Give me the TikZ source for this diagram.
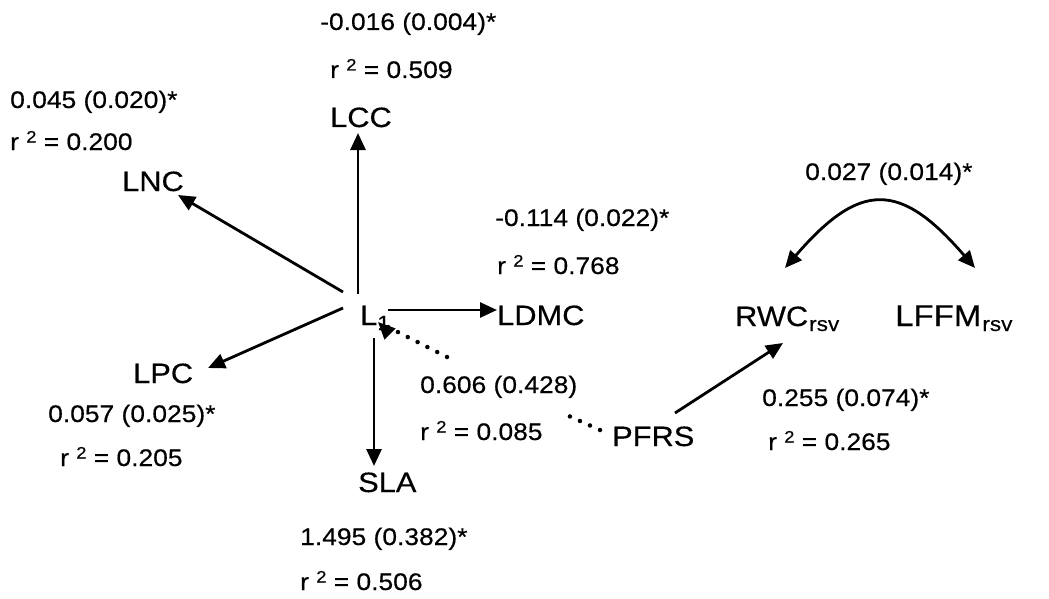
\documentclass[tikz,border=0pt]{standalone}
\usepackage{fontspec}
\setmainfont{Liberation Sans}[FakeStretch=1.1,FakeBold=0.4]
\usetikzlibrary{arrows.meta}
\newcommand\rsqr[1]{r \raisebox{7.5pt}{\fontsize{16.5}{16.5}\selectfont 2} = #1}
\newcommand\subsc[1]{\raisebox{-5pt}{\fontsize{20.5}{20.5}\selectfont #1}}
\begin{document}
\begin{tikzpicture}[x=1pt,y=-1pt,
  num/.style={anchor=base west, inner sep=0pt, font=\fontsize{24}{28}\selectfont},
  var/.style={anchor=base west, inner sep=0pt, font=\fontsize{28}{32}\selectfont},
  headend/.style={-{Triangle[length=17pt,width=15pt]}},
  bothheads/.style={{Triangle[length=17pt,width=15pt]}-{Triangle[length=17pt,width=15pt]}},
  arr/.style={line width=2.8pt, headend},
  dots/.style={line width=4.5pt, line cap=round, dash pattern=on 0pt off 11pt}]
\useasboundingbox (0,0) rectangle (1049,599);
% variables
\node[var] (LCC) at (330,127) {LCC};
\node[var] (LNC) at (122,191) {LNC};
\node[var] (L1) at (360,325) {L\subsc{1}};
\node[var] (LDMC) at (497,325) {LDMC};
\node[var] (RWC) at (735,326) {RWC\kern1pt\subsc{rsv}};
\node[var] (LFFM) at (895,326) {\fontsize{30}{32}\selectfont LFFM\kern1pt\subsc{rsv}};
\node[var] (LPC) at (133,383) {LPC};
\node[var] (PFRS) at (612,446) {PFRS};
\node[var] (SLA) at (358,492) {SLA};
% coefficients
\node[num] (cLCC) at (320,30) {-0.016 (0.004)*};
\node[num] (rLCC) at (330,78) {\rsqr{0.509}};
\node[num] (cLNC) at (10,108) {0.045 (0.020)*};
\node[num] (rLNC) at (10,150) {\rsqr{0.200}};
\node[num] (cLDMC) at (495,226) {-0.114 (0.022)*};
\node[num] (rLDMC) at (497,274) {\rsqr{0.768}};
\node[num] (cCov) at (805,180) {0.027 (0.014)*};
\node[num] (cLPC) at (48,422) {0.057 (0.025)*};
\node[num] (rLPC) at (60,466) {\rsqr{0.205}};
\node[num] (cL1) at (420,393) {0.606 (0.428)};
\node[num] (rL1) at (420,440) {\rsqr{0.085}};
\node[num] (cRWC) at (762,406) {0.255 (0.074)*};
\node[num] (rRWC) at (768,450) {\rsqr{0.265}};
\node[num] (cSLA) at (300,545) {1.495 (0.382)*};
\node[num] (rSLA) at (300,590) {\rsqr{0.506}};
% connectors
\draw[arr] ([shift={(-2,-31)}]L1.base west) -- ([shift={(28,6)}]LCC.base west);
\draw[arr] ([shift={(-17,-33)}]L1.base west) -- ([shift={(56,4)}]LNC.base west);
\draw[arr] ([shift={(28,-15)}]L1.base west) -- ([shift={(0,-15)}]LDMC.base west);
\draw[arr] ([shift={(-17,-17)}]L1.base west) -- ([shift={(75,-15)}]LPC.base west);
\draw[arr] ([shift={(14,13)}]L1.base west) -- ([shift={(16,-26)}]SLA.base west);
\coordinate (gapS) at (447,357);
\coordinate (gapE) at (560,412);
\draw[dots] ([shift={(-12,-16)}]PFRS.base west) -- (gapE);
\draw[dots] (gapS) -- ([shift={(26,1)}]L1.base west);
\draw[line width=2.8pt, headend] ([shift={(22,1)}]L1.base west) -- ([shift={(18,-3)}]L1.base west);
\draw[arr] ([shift={(63,-33)}]PFRS.base west) -- ([shift={(48,17)}]RWC.base west);
\draw[line width=2.8pt, bothheads] ([shift={(50,-58)}]RWC.base west)
  .. controls +(75,-87) and +(-75,-87) .. ([shift={(80,-58)}]LFFM.base west);
\end{tikzpicture}
\end{document}
